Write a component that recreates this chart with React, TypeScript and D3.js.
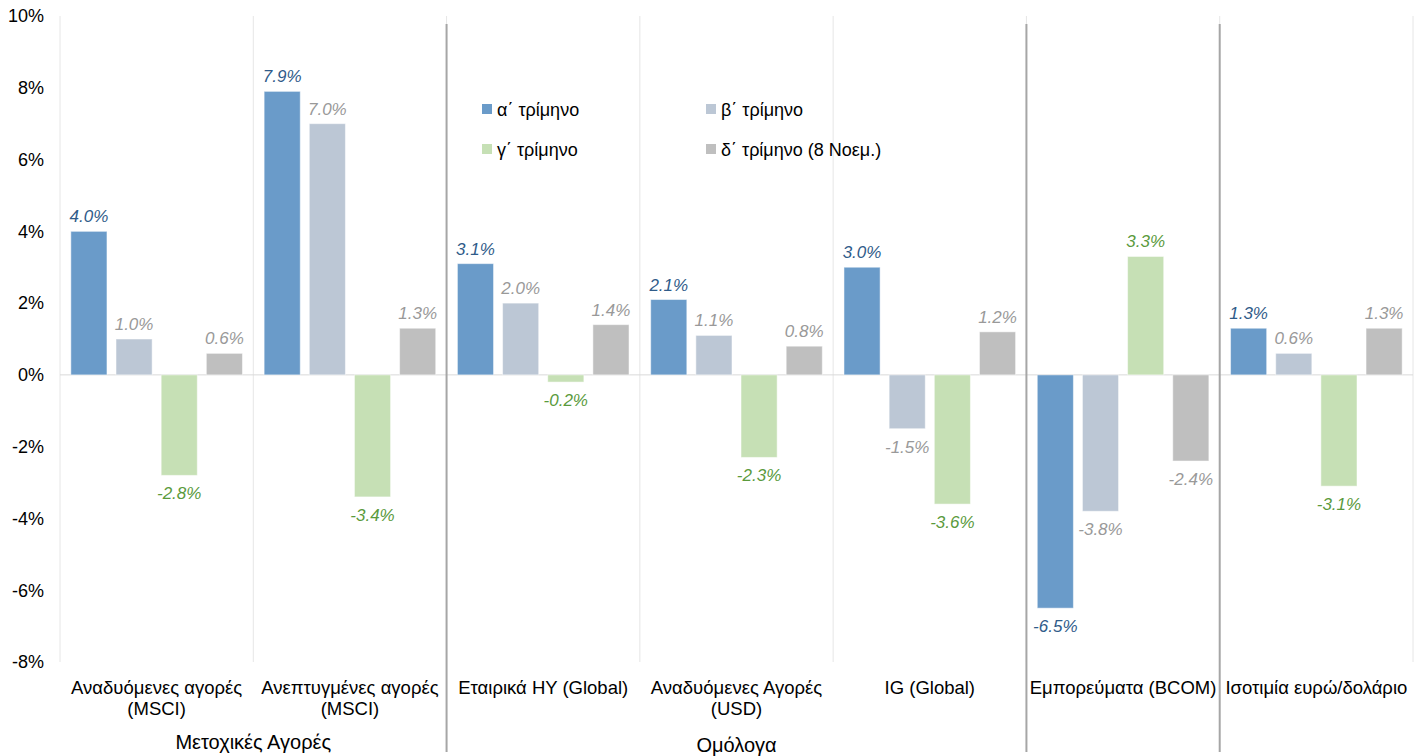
import React from 'react'
import * as d3 from 'd3'

// κατηγορίες (γραμμές ετικέτας)
const categories: string[][] = [
    ['Αναδυόμενες αγορές', '(MSCI)'],
    ['Ανεπτυγμένες αγορές', '(MSCI)'],
    ['Εταιρικά HY (Global)'],
    ['Αναδυόμενες Αγορές', '(USD)'],
    ['IG (Global)'],
    ['Εμπορεύματα (BCOM)'],
    ['Ισοτιμία ευρώ/δολάριο'],
]

const seriesNames = ['α΄ τρίμηνο', 'β΄ τρίμηνο', 'γ΄ τρίμηνο', 'δ΄ τρίμηνο (8 Νοεμ.)']

const q1 = [4.0, 7.9, 3.1, 2.1, 3.0, -6.5, 1.3]
const q2 = [1.0, 7.0, 2.0, 1.1, -1.5, -3.8, 0.6]
const q3 = [-2.8, -3.4, -0.2, -2.3, -3.6, 3.3, -3.1]
const q4 = [0.6, 1.3, 1.4, 0.8, 1.2, -2.4, 1.3]

const yTicks = [-8, -6, -4, -2, 0, 2, 4, 6, 8, 10]

// ομάδες κατηγοριών: [από, έως] δείκτες
const groups = [
    { name: 'Μετοχικές Αγορές', from: 0, to: 1 },
    { name: 'Ομόλογα', from: 2, to: 4 },
]
// διαχωριστικά μετά από αυτούς τους δείκτες
const separators = [1, 4, 5]

const colors = ['#6a9bc9', '#bcc7d5', '#c6e0b5', '#bfbfbf']
const labelColors = ['#2f5b89', '#999999', '#5a9a3c', '#999999']

export default function App() {
    const width = 1426
    const height = 756
    const left = 60
    const right = 1413
    const top = 16
    const bottom = 662

    const series = [q1, q2, q3, q4]

    const x = d3.scaleBand<number>()
        .domain(d3.range(categories.length))
        .range([left, right])

    const xInner = d3.scaleBand<number>()
        .domain(d3.range(series.length))
        .range([0, x.bandwidth()])
        .paddingInner(0.2)
        .paddingOuter(0.24)

    const y = d3.scaleLinear()
        .domain([-8, 10])
        .range([bottom, top])

    const font = 'Arial, "Liberation Sans", sans-serif'

    return (
        <svg width={width} height={height} style={{ position: 'absolute', left: 0, top: 0 }}
            fontFamily={font}>
            {/* κάθετες γραμμές πλέγματος */}
            {d3.range(categories.length + 1).map((i) => {
                const xx = i < categories.length ? x(i)! : right
                return <line key={'g' + i} x1={xx} x2={xx} y1={top} y2={bottom}
                    stroke='#e6e6e6' strokeWidth={1} />
            })}
            {/* άξονας y */}
            {yTicks.map((t) => (
                <text key={'t' + t} x={44} y={y(t)} dy='0.35em' textAnchor='end'
                    fontSize={18} fill='#000'>{t + '%'}</text>
            ))}
            <line x1={left} x2={right} y1={y(0)} y2={y(0)} stroke='#d9d9d9' strokeWidth={1} />
            {/* μπάρες */}
            {series.map((s, si) => s.map((v, ci) => {
                const bx = x(ci)! + xInner(si)!
                const y0 = y(Math.max(0, v))
                const h = Math.abs(y(v) - y(0))
                return <rect key={'b' + si + '-' + ci} x={bx} y={y0} width={xInner.bandwidth()}
                    height={h} fill={colors[si]} stroke='#ffffff' strokeOpacity={0.5} strokeWidth={1} />
            }))}
            {/* ετικέτες τιμών */}
            {series.map((s, si) => s.map((v, ci) => {
                const cx = x(ci)! + xInner(si)! + xInner.bandwidth() / 2
                const ly = v >= 0 ? y(v) - 9 : y(v) + 24
                return <text key={'l' + si + '-' + ci} x={cx} y={ly} textAnchor='middle'
                    fontSize={17} fontStyle='italic' fill={labelColors[si]}>{v.toFixed(1) + '%'}</text>
            }))}
            {/* διαχωριστικά */}
            {separators.map((i) => {
                const xx = x(i)! + x.bandwidth()
                return <line key={'s' + i} x1={xx} x2={xx} y1={top + 8} y2={752}
                    stroke='#a6a6a6' strokeWidth={2} />
            })}
            {/* ετικέτες κατηγοριών */}
            {categories.map((lines, ci) => (
                <text key={'c' + ci} x={x(ci)! + x.bandwidth() / 2} y={694} textAnchor='middle'
                    fontSize={18.5} fill='#000'>
                    {lines.map((l, li) => (
                        <tspan key={li} x={x(ci)! + x.bandwidth() / 2} dy={li === 0 ? 0 : 21}>{l}</tspan>
                    ))}
                </text>
            ))}
            {groups.map((g) => {
                const gx = (x(g.from)! + x(g.to)! + x.bandwidth()) / 2
                return <text key={g.name} x={gx} y={g.from === 0 ? 749 : 752} textAnchor='middle'
                    fontSize={20} fill='#000'>{g.name}</text>
            })}
            {/* υπόμνημα */}
            {seriesNames.map((n, i) => {
                const lx = i % 2 === 0 ? 482 : 706
                const ly = i < 2 ? 110 : 150
                return (
                    <g key={'lg' + i}>
                        <rect x={lx} y={ly - 6} width={10} height={10} fill={colors[i]} />
                        <text x={lx + 15} y={ly} dy='0.35em' fontSize={18} fill='#000'>{n}</text>
                    </g>
                )
            })}
        </svg>
    )
}
